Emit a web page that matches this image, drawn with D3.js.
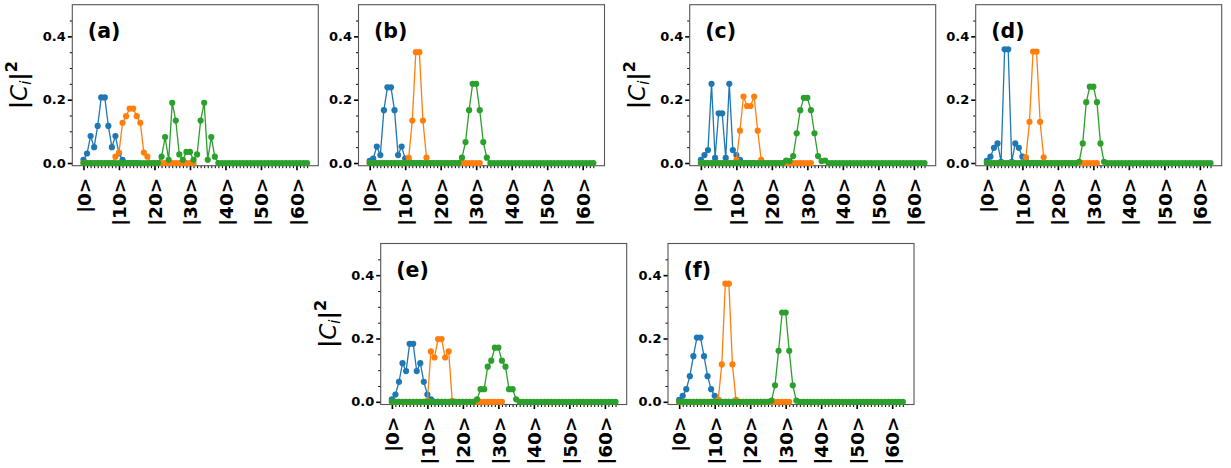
<!DOCTYPE html>
<html>
<head>
<meta charset="utf-8">
<script src="https://cdn.jsdelivr.net/npm/d3@7.9.0/dist/d3.min.js"></script>
<style>
  body { margin: 0; background: #fff; }
  text { font-family: 'DejaVu Sans', sans-serif; }
</style>
</head>
<body>
<svg id="chart"></svg>
<script>
// |C_i|^2 for each basis state; blue has 16 states, orange 32, green 64
const blueA = [0.01, 0.03, 0.085, 0.05, 0.117, 0.207, 0.207, 0.117, 0.05, 0.085, 0.03, 0.01, 0, 0, 0, 0];
const orangeA = [0, 0, 0, 0, 0, 0, 0, 0, 0, 0.02,
  0.033, 0.127, 0.148, 0.172, 0.172, 0.148, 0.127, 0.033, 0.02, 0,
  0, 0, 0, 0, 0, 0, 0, 0, 0, 0,
  0, 0];
const greenA = [0, 0, 0, 0, 0, 0, 0, 0, 0, 0,
  0, 0, 0, 0, 0, 0, 0, 0, 0, 0,
  0, 0, 0.02, 0.082, 0.01, 0.19, 0.134, 0.027, 0.01, 0.035,
  0.035, 0.01, 0.027, 0.134, 0.19, 0.01, 0.082, 0.02, 0, 0,
  0, 0, 0, 0, 0, 0, 0, 0, 0, 0,
  0, 0, 0, 0, 0, 0, 0, 0, 0, 0,
  0, 0, 0, 0];

const blueB = [0.007, 0.014, 0.052, 0.025, 0.167, 0.239, 0.239, 0.167, 0.025, 0.052, 0.014, 0.007, 0, 0, 0, 0];
const orangeB = [0, 0, 0, 0, 0, 0, 0, 0, 0, 0,
  0, 0.017, 0.134, 0.35, 0.35, 0.134, 0.017, 0, 0, 0,
  0, 0, 0, 0, 0, 0, 0, 0, 0, 0,
  0, 0];
const greenB = [0, 0, 0, 0, 0, 0, 0, 0, 0, 0,
  0, 0, 0, 0, 0, 0, 0, 0, 0, 0,
  0, 0, 0, 0, 0, 0, 0.017, 0.066, 0.167, 0.25,
  0.25, 0.167, 0.066, 0.017, 0, 0, 0, 0, 0, 0,
  0, 0, 0, 0, 0, 0, 0, 0, 0, 0,
  0, 0, 0, 0, 0, 0, 0, 0, 0, 0,
  0, 0, 0, 0];

const blueC = [0.01, 0.025, 0.041, 0.25, 0.016, 0.157, 0.157, 0.016, 0.25, 0.041, 0.025, 0.01, 0, 0, 0, 0];
const orangeC = [0, 0, 0, 0, 0, 0, 0, 0, 0, 0,
  0.01, 0.102, 0.21, 0.18, 0.18, 0.21, 0.102, 0.01, 0, 0,
  0, 0, 0, 0, 0, 0, 0, 0, 0, 0,
  0, 0];
const greenC = [0, 0, 0, 0, 0, 0, 0, 0, 0, 0,
  0, 0, 0, 0, 0, 0, 0, 0, 0, 0,
  0, 0, 0, 0, 0.008, 0.006, 0.022, 0.094, 0.167, 0.206,
  0.206, 0.167, 0.094, 0.022, 0.006, 0.008, 0, 0, 0, 0,
  0, 0, 0, 0, 0, 0, 0, 0, 0, 0,
  0, 0, 0, 0, 0, 0, 0, 0, 0, 0,
  0, 0, 0, 0];

const blueD = [0.007, 0.02, 0.048, 0.062, 0.004, 0.359, 0.359, 0.004, 0.062, 0.048, 0.02, 0.007, 0, 0, 0, 0];
const orangeD = [0, 0, 0, 0, 0, 0, 0, 0, 0, 0,
  0, 0.018, 0.13, 0.352, 0.352, 0.13, 0.018, 0, 0, 0,
  0, 0, 0, 0, 0, 0, 0, 0, 0, 0,
  0, 0];
const greenD = [0, 0, 0, 0, 0, 0, 0, 0, 0, 0,
  0, 0, 0, 0, 0, 0, 0, 0, 0, 0,
  0, 0, 0, 0, 0, 0, 0.004, 0.062, 0.192, 0.241,
  0.241, 0.192, 0.062, 0.004, 0, 0, 0, 0, 0, 0,
  0, 0, 0, 0, 0, 0, 0, 0, 0, 0,
  0, 0, 0, 0, 0, 0, 0, 0, 0, 0,
  0, 0, 0, 0];

const blueE = [0.008, 0.023, 0.063, 0.122, 0.097, 0.183, 0.183, 0.097, 0.122, 0.063, 0.023, 0.008, 0, 0, 0, 0];
const orangeE = [0, 0, 0, 0, 0, 0, 0, 0, 0, 0,
  0.003, 0.159, 0.14, 0.198, 0.198, 0.14, 0.159, 0.003, 0, 0,
  0, 0, 0, 0, 0, 0, 0, 0, 0, 0,
  0, 0];
const greenE = [0, 0, 0, 0, 0, 0, 0, 0, 0, 0,
  0, 0, 0, 0, 0, 0, 0, 0, 0, 0,
  0, 0, 0, 0, 0.008, 0.04, 0.04, 0.111, 0.13, 0.171,
  0.171, 0.13, 0.111, 0.04, 0.04, 0.008, 0, 0, 0, 0,
  0, 0, 0, 0, 0, 0, 0, 0, 0, 0,
  0, 0, 0, 0, 0, 0, 0, 0, 0, 0,
  0, 0, 0, 0];

const blueF = [0.006, 0.019, 0.04, 0.081, 0.144, 0.203, 0.203, 0.144, 0.081, 0.04, 0.019, 0.006, 0, 0, 0, 0];
const orangeF = [0, 0, 0, 0, 0, 0, 0, 0, 0, 0,
  0, 0.006, 0.118, 0.373, 0.373, 0.118, 0.006, 0, 0, 0,
  0, 0, 0, 0, 0, 0, 0, 0, 0, 0,
  0, 0];
const greenF = [0, 0, 0, 0, 0, 0, 0, 0, 0, 0,
  0, 0, 0, 0, 0, 0, 0, 0, 0, 0,
  0, 0, 0, 0, 0, 0, 0.004, 0.052, 0.161, 0.282,
  0.282, 0.161, 0.052, 0.004, 0, 0, 0, 0, 0, 0,
  0, 0, 0, 0, 0, 0, 0, 0, 0, 0,
  0, 0, 0, 0, 0, 0, 0, 0, 0, 0,
  0, 0, 0, 0];

const panelNames = ['(a)', '(b)', '(c)', '(d)', '(e)', '(f)'];
const xTickValues = [0, 10, 20, 30, 40, 50, 60];
const xTickLabels = ['|0>', '|10>', '|20>', '|30>', '|40>', '|50>', '|60>'];
const yTickValues = [0, 0.2, 0.4];
const yTickLabels = ['0.0', '0.2', '0.4'];

const seriesColors = ['#1f77b4', '#ff7f0e', '#2ca02c'];

const panels = [
  { name: panelNames[0], series: [blueA, orangeA, greenA], left: 72.3, top: 4.7, ylabel: true },
  { name: panelNames[1], series: [blueB, orangeB, greenB], left: 358.5, top: 4.7, ylabel: false },
  { name: panelNames[2], series: [blueC, orangeC, greenC], left: 689.7, top: 4.7, ylabel: true },
  { name: panelNames[3], series: [blueD, orangeD, greenD], left: 975.7, top: 4.7, ylabel: false },
  { name: panelNames[4], series: [blueE, orangeE, greenE], left: 380.7, top: 243.5, ylabel: true },
  { name: panelNames[5], series: [blueF, orangeF, greenF], left: 668.0, top: 243.5, ylabel: false },
];

const width = 1231;
const height = 468;
const panelW = 246;
const panelH = 161;

const svg = d3.select('#chart').attr('width', width).attr('height', height);

panels.forEach((p) => {
  const x = d3.scaleLinear().domain([-3.15, 66.15]).range([p.left, p.left + panelW]);
  const y = d3.scaleLinear().domain([-0.0085, 0.5]).range([p.top + panelH, p.top]);
  const g = svg.append('g');

  // y axis with minor ticks every 0.05
  const yMinor = d3.range(0.05, 0.5, 0.05).filter((v) => Math.abs(v / 0.2 - Math.round(v / 0.2)) > 1e-6);
  g.append('g')
    .attr('transform', `translate(${p.left},0)`)
    .call(d3.axisLeft(y).tickValues(yMinor).tickSize(2.5).tickFormat(''))
    .call((a) => a.select('.domain').remove())
    .call((a) => a.selectAll('line').attr('stroke', '#000').attr('stroke-width', 1));
  const yAx = g.append('g')
    .attr('transform', `translate(${p.left},0)`)
    .call(d3.axisLeft(y).tickValues(yTickValues).tickSize(4.5).tickPadding(2)
      .tickFormat((d, i) => yTickLabels[i]));
  yAx.select('.domain').remove();
  yAx.selectAll('line').attr('stroke', '#000').attr('stroke-width', 1.6);
  yAx.selectAll('text')
    .attr('font-family', 'DejaVu Sans').attr('font-weight', 'bold').attr('font-size', 13).attr('fill', '#000');

  // x axis with minor ticks every state
  const xMinor = d3.range(0, 64).filter((v) => v % 10 !== 0);
  const xBase = p.top + panelH;
  g.append('g')
    .attr('transform', `translate(0,${xBase})`)
    .call(d3.axisBottom(x).tickValues(xMinor).tickSize(2.5).tickFormat(''))
    .call((a) => a.select('.domain').remove())
    .call((a) => a.selectAll('line').attr('stroke', '#000').attr('stroke-width', 1));
  const xAx = g.append('g')
    .attr('transform', `translate(0,${xBase})`)
    .call(d3.axisBottom(x).tickValues(xTickValues).tickSize(4.5)
      .tickFormat((d, i) => xTickLabels[i]));
  xAx.select('.domain').remove();
  xAx.selectAll('line').attr('stroke', '#000').attr('stroke-width', 1.6);
  xAx.selectAll('text')
    .attr('font-family', 'DejaVu Sans').attr('font-weight', 'bold').attr('font-size', 18.5).attr('fill', '#000')
    .attr('text-anchor', 'end')
    .attr('transform', 'rotate(-90)')
    .attr('x', -12).attr('y', 0).attr('dy', '0.36em');

  // frame
  g.append('rect')
    .attr('x', p.left).attr('y', p.top)
    .attr('width', panelW).attr('height', panelH)
    .attr('fill', 'none').attr('stroke', '#555').attr('stroke-width', 1.1);

  // series: line then markers, in plotting order
  const line = d3.line().x((d, i) => x(i)).y((d) => y(d));
  p.series.forEach((vals, si) => {
    g.append('path')
      .datum(vals)
      .attr('d', line)
      .attr('fill', 'none')
      .attr('stroke', seriesColors[si])
      .attr('stroke-width', 1.3);
    g.append('g')
      .selectAll('circle')
      .data(vals)
      .join('circle')
      .attr('cx', (d, i) => x(i))
      .attr('cy', (d) => y(d))
      .attr('r', 3.1)
      .attr('fill', seriesColors[si]);
  });

  // panel label
  g.append('text')
    .attr('x', p.left + 15.5)
    .attr('y', p.top + 33)
    .attr('font-family', 'DejaVu Sans')
    .attr('font-weight', 'bold')
    .attr('font-size', 20.5)
    .text(p.name);

  if (p.ylabel) {
    const lab = g.append('text')
      .attr('transform', `translate(${p.left - 45},${p.top + panelH / 2}) rotate(-90)`)
      .attr('text-anchor', 'middle')
      .attr('font-family', 'DejaVu Sans')
      .attr('font-weight', 'bold')
      .attr('font-size', 23);
    lab.append('tspan').text('|');
    lab.append('tspan').attr('font-style', 'italic').attr('font-weight', 'normal').text('C');
    lab.append('tspan').attr('font-style', 'italic').attr('font-weight', 'normal').attr('font-size', 15).attr('dy', 4).text('i');
    lab.append('tspan').attr('dy', -4).text('|');
    lab.append('tspan').attr('font-size', 16).attr('dy', -10).text('2');
  }
});
</script>
</body>
</html>
